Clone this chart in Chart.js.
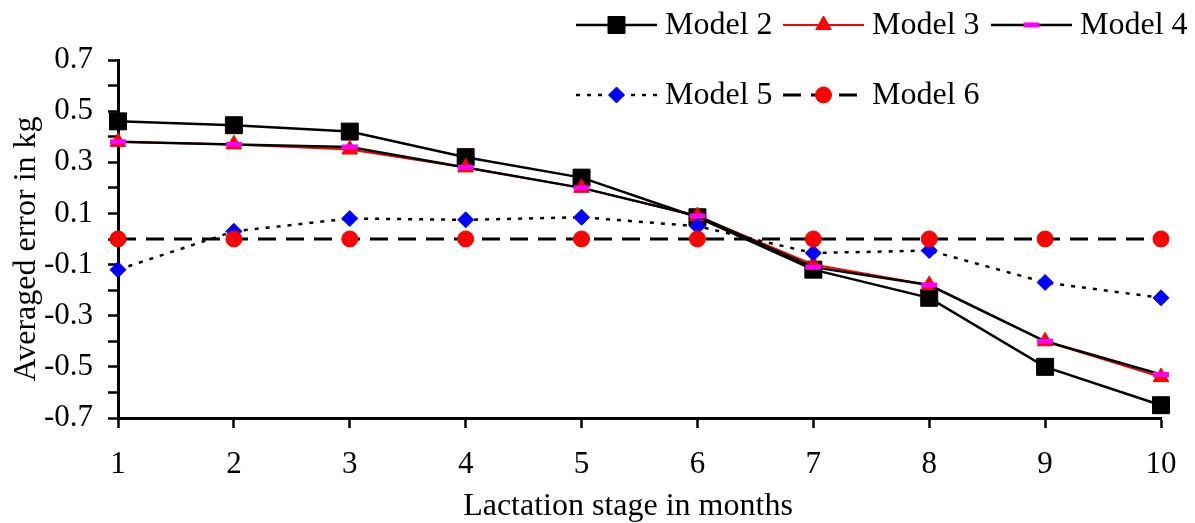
<!DOCTYPE html>
<html>
<head>
<meta charset="utf-8">
<script src="https://cdn.jsdelivr.net/npm/chart.js@4.4.1/dist/chart.umd.min.js"></script>
<style>
  html, body { margin: 0; padding: 0; background: #fff; }
  #chart { display: block; }
</style>
</head>
<body>
<canvas id="chart" width="1195" height="523"></canvas>
<script>
// donnees
const months = ['1', '2', '3', '4', '5', '6', '7', '8', '9', '10'];
const model2 = [0.46, 0.445, 0.42, 0.32, 0.24, 0.085, -0.12, -0.23, -0.50, -0.65];
const model3 = [0.38, 0.37, 0.35, 0.28, 0.20, 0.09, -0.10, -0.18, -0.40, -0.54];
const model4 = [0.38, 0.37, 0.36, 0.28, 0.20, 0.09, -0.11, -0.18, -0.40, -0.53];
const model5 = [-0.12, 0.03, 0.08, 0.075, 0.085, 0.05, -0.055, -0.045, -0.17, -0.23];
const model6 = [0, 0, 0, 0, 0, 0, 0, 0, 0, 0];

const xTitle = 'Lactation stage in months';
const yTitle = 'Averaged error in kg';

const FONT = '"Liberation Serif", "Times New Roman", serif';

function serie(label, data, opts) {
    return Object.assign({
        label: label,
        data: data,
        tension: 0,
        clip: false,
        fill: false,
        pointHoverRadius: 0
    }, opts);
}

const datasets = [
    serie('Model 2', model2, {
        borderColor: '#000', borderWidth: 2.5,
        pointStyle: 'rect', pointRadius: 12,
        pointBackgroundColor: '#000', pointBorderColor: '#000', pointBorderWidth: 1,
        order: 5
    }),
    serie('Model 3', model3, {
        borderColor: '#ff0000', borderWidth: 2,
        pointStyle: 'triangle', pointRadius: 9,
        pointBackgroundColor: '#ff0000', pointBorderColor: '#ff0000', pointBorderWidth: 1,
        order: 4
    }),
    serie('Model 4', model4, {
        borderColor: '#000', borderWidth: 2.5,
        pointStyle: 'line', pointRadius: 8,
        pointBackgroundColor: '#ff00ff', pointBorderColor: '#ff00ff', pointBorderWidth: 5,
        order: 3
    }),
    serie('Model 5', model5, {
        borderColor: '#000', borderWidth: 2.5, borderDash: [4, 7],
        pointStyle: 'rectRot', pointRadius: 8,
        pointBackgroundColor: '#0000ff', pointBorderColor: '#0000ff', pointBorderWidth: 1,
        order: 2
    }),
    serie('Model 6', model6, {
        borderColor: '#000', borderWidth: 3, borderDash: [18, 10],
        pointStyle: 'circle', pointRadius: 8,
        pointBackgroundColor: '#ff0000', pointBorderColor: '#ff0000', pointBorderWidth: 1,
        order: 1
    })
];

// legende sur deux lignes, comme dans Excel
const legendPlugin = {
    id: 'legendeExcel',
    afterDraw(chart) {
        const ctx = chart.ctx;
        const cols = [576, 783, 991];
        const rows = [25, 95];
        const sampleW = 81;
        chart.data.datasets.forEach((ds, i) => {
            const x = cols[i < 3 ? i : i - 3];
            const y = rows[i < 3 ? 0 : 1];
            ctx.save();
            ctx.strokeStyle = ds.borderColor;
            ctx.lineWidth = ds.borderWidth;
            ctx.setLineDash(ds.borderDash || []);
            ctx.beginPath();
            ctx.moveTo(x, y);
            ctx.lineTo(x + sampleW, y);
            ctx.stroke();
            ctx.setLineDash([]);
            ctx.fillStyle = ds.pointBackgroundColor;
            ctx.strokeStyle = ds.pointBorderColor;
            ctx.lineWidth = ds.pointBorderWidth;
            Chart.helpers.drawPoint(ctx, {
                pointStyle: ds.pointStyle,
                radius: ds.pointRadius,
                rotation: 0,
                borderWidth: ds.pointBorderWidth
            }, x + sampleW / 2, y);
            ctx.fillStyle = '#000';
            ctx.font = '32px ' + FONT;
            ctx.textBaseline = 'middle';
            ctx.textAlign = 'left';
            ctx.fillText(ds.label, x + 89, y + 1);
            ctx.restore();
        });
    }
};

// titres des axes places comme sur l'original
const titlesPlugin = {
    id: 'titresAxes',
    afterDraw(chart) {
        const ctx = chart.ctx;
        ctx.save();
        ctx.fillStyle = '#000';
        ctx.textAlign = 'center';
        ctx.textBaseline = 'alphabetic';
        ctx.font = '32px ' + FONT;
        ctx.fillText(xTitle, 628, 515);
        ctx.translate(35, 249);
        ctx.rotate(-Math.PI / 2);
        ctx.fillText(yTitle, 0, 0);
        ctx.restore();
    }
};

new Chart(document.getElementById('chart'), {
    type: 'line',
    data: { labels: months, datasets: datasets },
    plugins: [legendPlugin, titlesPlugin],
    options: {
        responsive: false,
        animation: false,
        devicePixelRatio: 1,
        layout: { padding: { top: 60, right: 34, bottom: 0, left: 0 } },
        plugins: {
            legend: { display: false },
            tooltip: { enabled: false }
        },
        scales: {
            x: {
                type: 'category',
                offset: false,
                grid: { drawOnChartArea: false, tickLength: 10, tickWidth: 2.5, tickColor: '#000' },
                border: { display: true, width: 3, color: '#000' },
                ticks: { font: { family: FONT, size: 31 }, color: '#000', padding: 18, maxRotation: 0 },
                afterFit(scale) { scale.height = 105; }
            },
            y: {
                min: -0.7,
                max: 0.7,
                grid: { drawOnChartArea: false, tickLength: 10, tickWidth: 2.5, tickColor: '#000' },
                border: { display: true, width: 3, color: '#000' },
                ticks: {
                    stepSize: 0.1,
                    autoSkip: false,
                    font: { family: FONT, size: 31 },
                    color: '#000',
                    padding: 15,
                    callback: function (v) {
                        const k = Math.round(v * 10);
                        return Math.abs(k) % 2 === 1 ? (k / 10).toFixed(1) : '';
                    }
                },
                afterFit(scale) { scale.width = 118; }
            }
        }
    }
});
</script>
</body>
</html>
